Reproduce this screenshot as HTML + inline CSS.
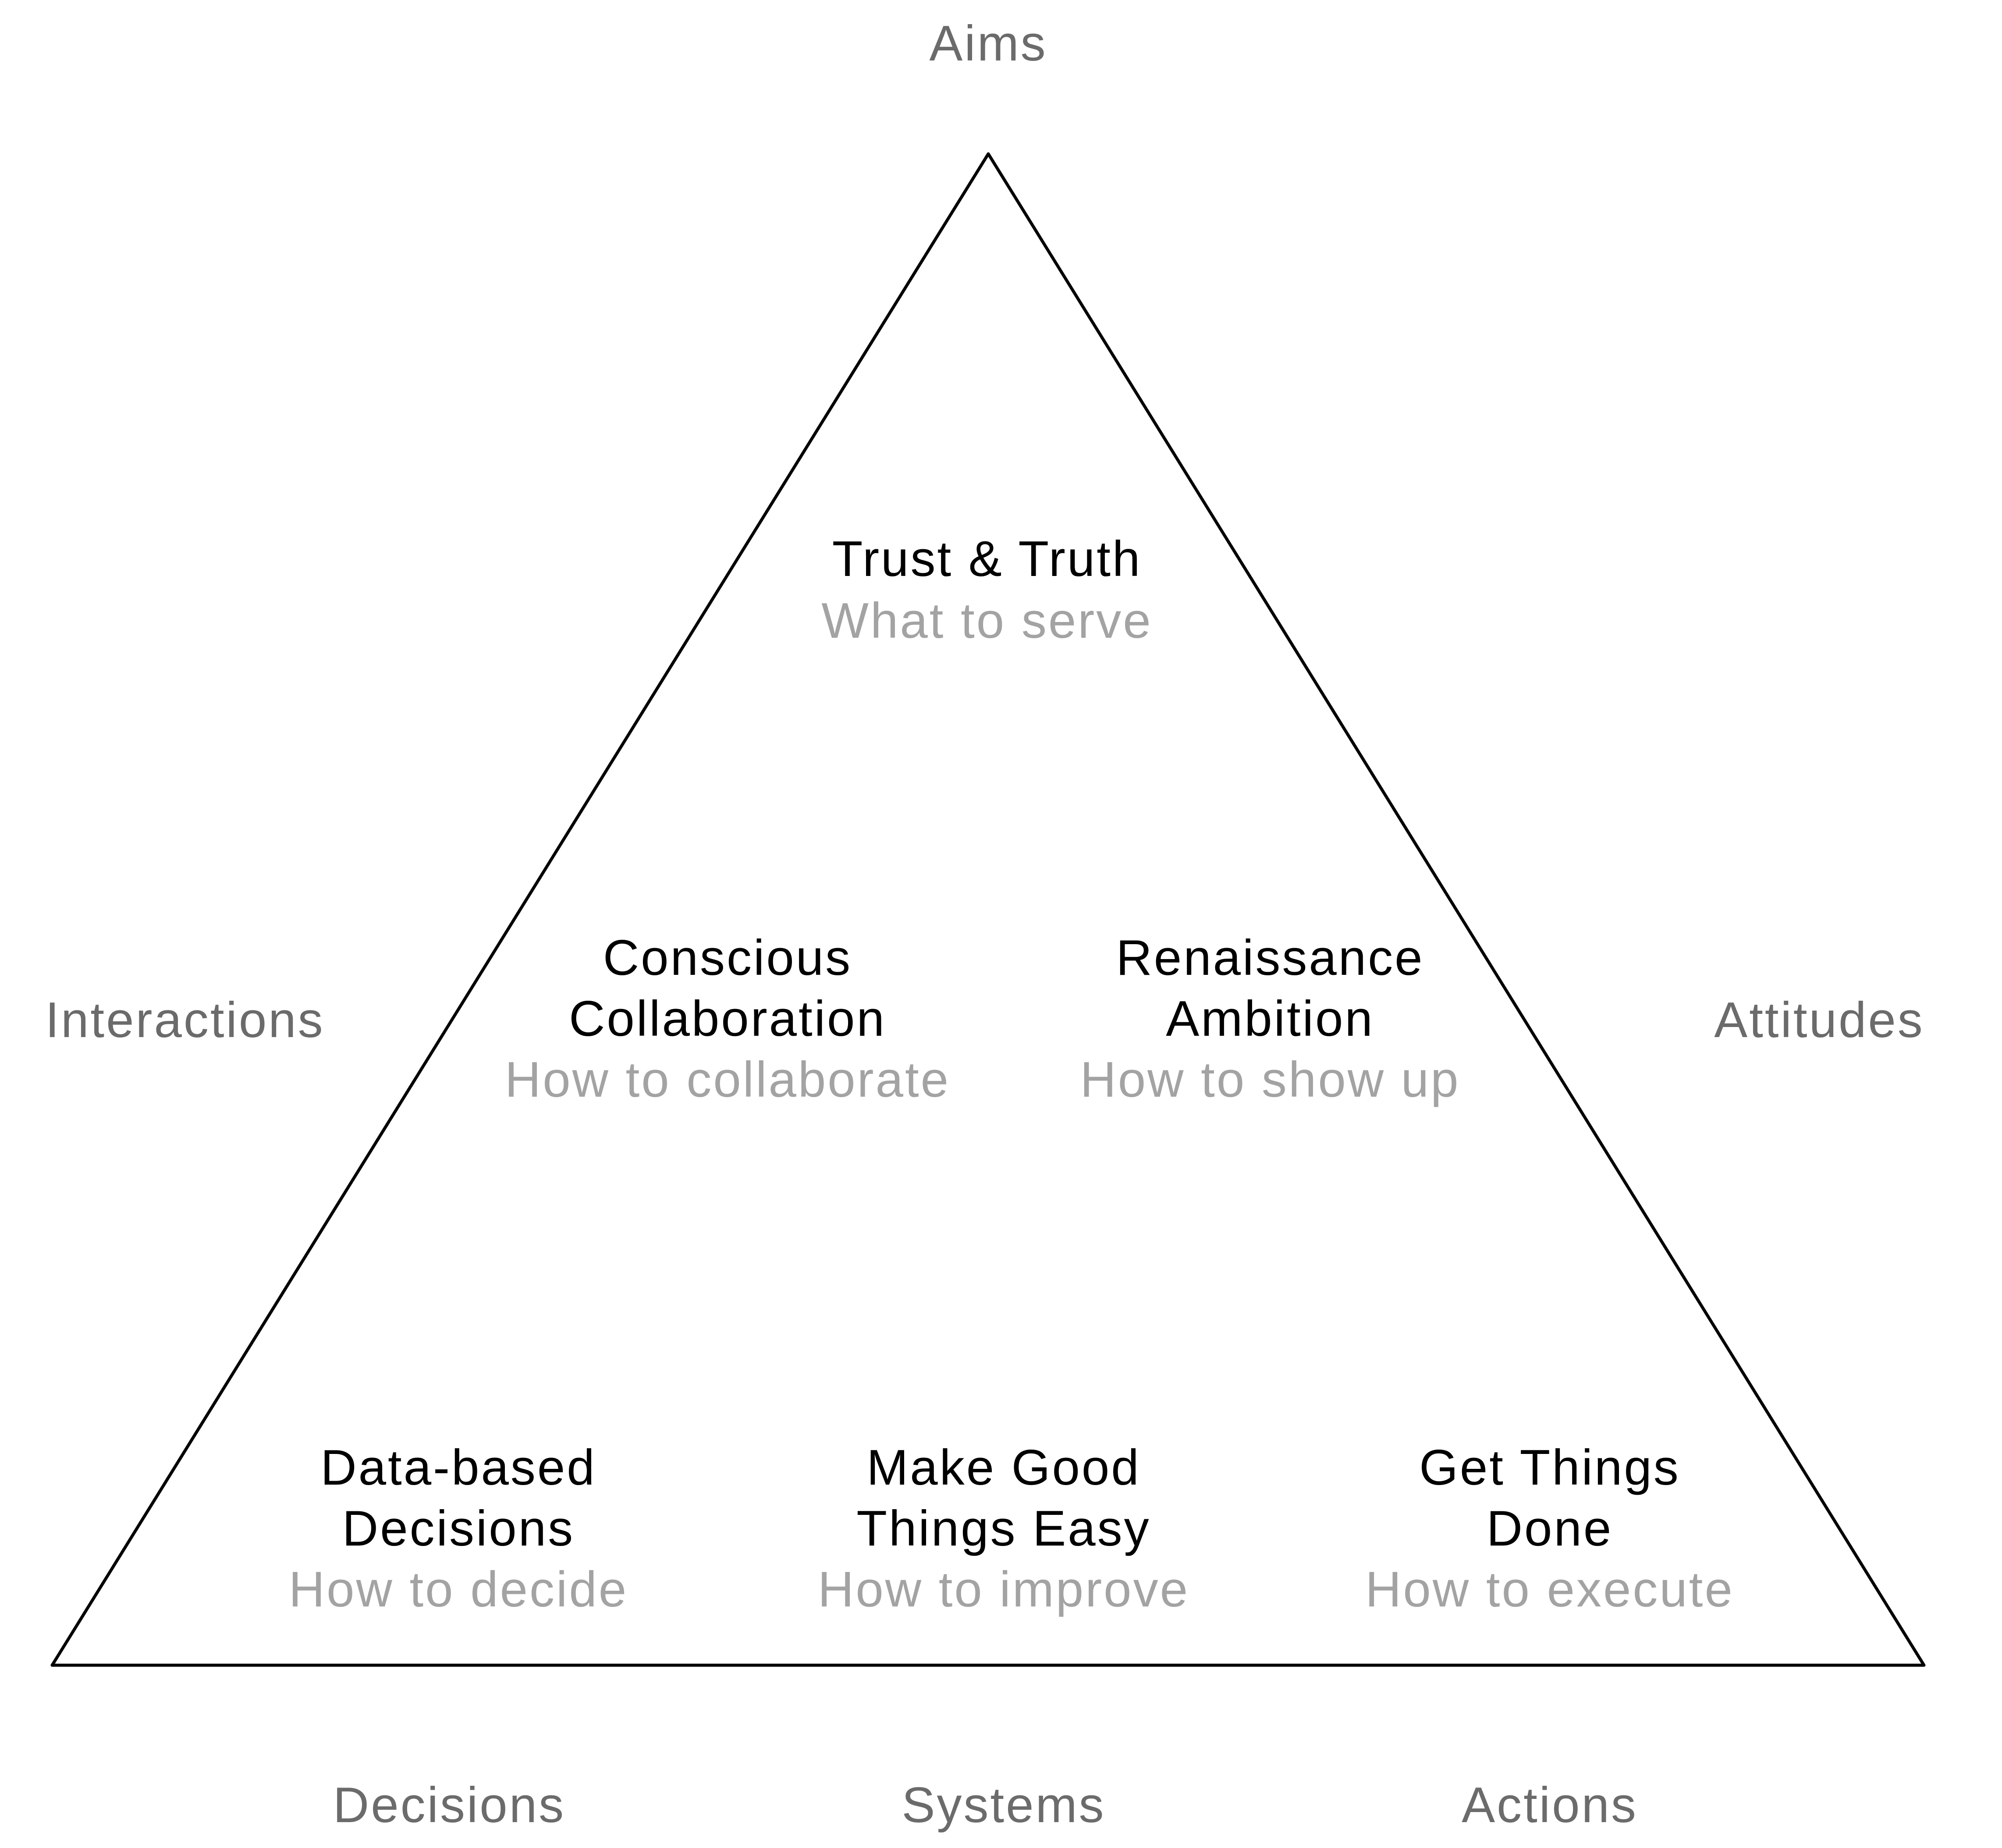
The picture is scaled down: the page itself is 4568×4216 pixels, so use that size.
<!DOCTYPE html>
<html><head><meta charset="utf-8"><style>
html,body{margin:0;padding:0;background:#fff;}
svg{display:block;}
text{font-family:"Liberation Sans",Arial,sans-serif;font-size:114px;text-anchor:middle;letter-spacing:4px;}
.k{fill:#000;}
.g{fill:#a3a3a3;}
.d{fill:#6b6b6b;}
</style></head><body>
<svg width="4568" height="4216" viewBox="0 0 4568 4216" xmlns="http://www.w3.org/2000/svg">
<rect width="4568" height="4216" fill="#fff"/>
<polygon points="2255,351 119,3799 4390,3799" fill="none" stroke="#000" stroke-width="7" stroke-linejoin="round"/>
<text class="d" x="2255" y="138">Aims</text>
<text class="d" x="422" y="2366">Interactions</text>
<text class="d" x="4151" y="2366">Attitudes</text>
<text class="d" x="1025" y="4157">Decisions</text>
<text class="d" x="2290" y="4157">Systems</text>
<text class="d" x="3536" y="4157">Actions</text>

<text class="k" x="2252" y="1314">Trust &amp; Truth</text>
<text class="g" x="2252" y="1455">What to serve</text>

<text class="k" x="1660" y="2224">Conscious</text>
<text class="k" x="1660" y="2363">Collaboration</text>
<text class="g" x="1660" y="2502">How to collaborate</text>

<text class="k" x="2898" y="2224">Renaissance</text>
<text class="k" x="2898" y="2363">Ambition</text>
<text class="g" x="2898" y="2502">How to show up</text>

<text class="k" x="1046" y="3387">Data-based</text>
<text class="k" x="1046" y="3526">Decisions</text>
<text class="g" x="1046" y="3665">How to decide</text>

<text class="k" x="2290" y="3387">Make Good</text>
<text class="k" x="2290" y="3526">Things Easy</text>
<text class="g" x="2290" y="3665">How to improve</text>

<text class="k" x="3536" y="3387">Get Things</text>
<text class="k" x="3536" y="3526">Done</text>
<text class="g" x="3536" y="3665">How to execute</text>
</svg>
</body></html>
